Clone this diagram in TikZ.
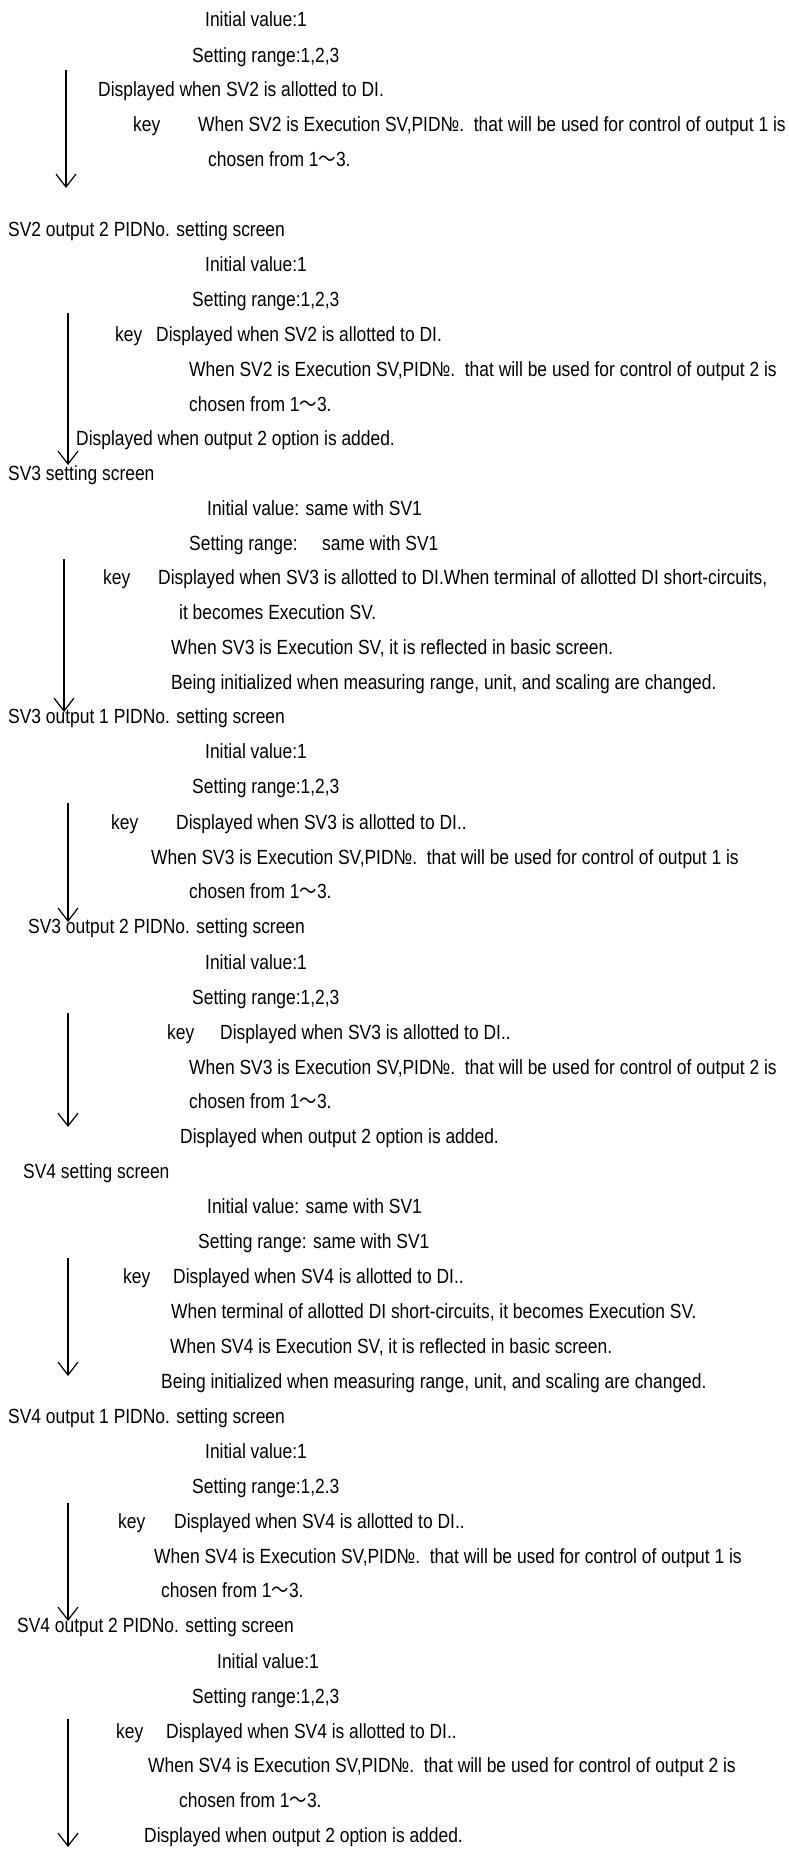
\documentclass[tikz,border=0pt]{standalone}
\usepackage{fontspec}
\setmainfont[FakeStretch=0.85]{Liberation Sans}
\newfontfamily\cjkfont[FakeStretch=0.85]{Noto Sans CJK SC}
\usetikzlibrary{arrows.meta}
\newcommand{\tld}{{\cjkfont ～}}
\begin{document}
\begin{tikzpicture}[x=1pt,y=-1pt,
  txt/.style={anchor=base west, inner sep=0pt, font=\fontsize{20.5pt}{24pt}\selectfont},
  arr/.style={line width=1.2pt, -{Straight Barb[length=13pt,width=20pt]}}]
\useasboundingbox (0,0) rectangle (789,1861);
% ---- block 1
\node[txt] (b1a) at (205,26) {Initial value:1};
\node[txt] (b1b) at (192,62) {Setting range:1,2,3};
\node[txt] (b1c) at (98,96) {Displayed when SV2 is allotted to DI.};
\node[txt] (b1k) at (133,131) {key};
\node[txt] (b1d) at (198,131) {When SV2 is Execution SV,PID№.\ \ that will be used for control of output 1 is};
\node[txt] (b1e) at (208,166) {chosen from 1\tld3.};
\coordinate (a1s) at (66,70); \coordinate (a1e) at (66,188);
\draw[arr] (a1s) -- (a1e);
\node[txt] (h1) at (8,236) {SV2 output 2 PIDNo. setting screen};
% ---- block 2
\node[txt] (b2a) at (205,271) {Initial value:1};
\node[txt] (b2b) at (192,306) {Setting range:1,2,3};
\node[txt] (b2k) at (115,341) {key};
\node[txt] (b2c) at (156,341) {Displayed when SV2 is allotted to DI.};
\node[txt] (b2d) at (189,376) {When SV2 is Execution SV,PID№.\ \ that will be used for control of output 2 is};
\node[txt] (b2e) at (189,411) {chosen from 1\tld3.};
\node[txt] (b2f) at (76,445) {Displayed when output 2 option is added.};
\coordinate (a2s) at (68,313); \coordinate (a2e) at (68,465);
\draw[arr] (a2s) -- (a2e);
\node[txt] (h2) at (8,480) {SV3 setting screen};
% ---- block 3
\node[txt] (b3a) at (207,515) {Initial value: same with SV1};
\node[txt] (b3b) at (189,550) {Setting range:\hspace{18pt} same with SV1};
\node[txt] (b3k) at (103,584) {key};
\node[txt] (b3c) at (158,584) {Displayed when SV3 is allotted to DI.When terminal of allotted DI short-circuits,};
\node[txt] (b3d) at (179,619) {it becomes Execution SV.};
\node[txt] (b3e) at (171,654) {When SV3 is Execution SV, it is reflected in basic screen.};
\node[txt] (b3f) at (171,689) {Being initialized when measuring range, unit, and scaling are changed.};
\coordinate (a3s) at (64,559); \coordinate (a3e) at (64,712);
\draw[arr] (a3s) -- (a3e);
\node[txt] (h3) at (8,723) {SV3 output 1 PIDNo. setting screen};
% ---- block 4
\node[txt] (b4a) at (205,758) {Initial value:1};
\node[txt] (b4b) at (192,793) {Setting range:1,2,3};
\node[txt] (b4k) at (111,829) {key};
\node[txt] (b4c) at (176,829) {Displayed when SV3 is allotted to DI..};
\node[txt] (b4d) at (151,864) {When SV3 is Execution SV,PID№.\ \ that will be used for control of output 1 is};
\node[txt] (b4e) at (189,898) {chosen from 1\tld3.};
\coordinate (a4s) at (68,803); \coordinate (a4e) at (68,922);
\draw[arr] (a4s) -- (a4e);
\node[txt] (h4) at (28,933) {SV3 output 2 PIDNo. setting screen};
% ---- block 5
\node[txt] (b5a) at (205,969) {Initial value:1};
\node[txt] (b5b) at (192,1004) {Setting range:1,2,3};
\node[txt] (b5k) at (167,1039) {key};
\node[txt] (b5c) at (220,1039) {Displayed when SV3 is allotted to DI..};
\node[txt] (b5d) at (189,1074) {When SV3 is Execution SV,PID№.\ \ that will be used for control of output 2 is};
\node[txt] (b5e) at (189,1108) {chosen from 1\tld3.};
\node[txt] (b5f) at (180,1143) {Displayed when output 2 option is added.};
\coordinate (a5s) at (68,1013); \coordinate (a5e) at (68,1127);
\draw[arr] (a5s) -- (a5e);
\node[txt] (h5) at (23,1178) {SV4 setting screen};
% ---- block 6
\node[txt] (b6a) at (207,1213) {Initial value: same with SV1};
\node[txt] (b6b) at (198,1248) {Setting range: same with SV1};
\node[txt] (b6k) at (123,1283) {key};
\node[txt] (b6c) at (173,1283) {Displayed when SV4 is allotted to DI..};
\node[txt] (b6d) at (171,1318) {When terminal of allotted DI short-circuits, it becomes Execution SV.};
\node[txt] (b6e) at (170,1353) {When SV4 is Execution SV, it is reflected in basic screen.};
\node[txt] (b6f) at (161,1388) {Being initialized when measuring range, unit, and scaling are changed.};
\coordinate (a6s) at (68,1258); \coordinate (a6e) at (68,1376);
\draw[arr] (a6s) -- (a6e);
\node[txt] (h6) at (8,1423) {SV4 output 1 PIDNo. setting screen};
% ---- block 7
\node[txt] (b7a) at (205,1458) {Initial value:1};
\node[txt] (b7b) at (192,1493) {Setting range:1,2.3};
\node[txt] (b7k) at (118,1528) {key};
\node[txt] (b7c) at (174,1528) {Displayed when SV4 is allotted to DI..};
\node[txt] (b7d) at (154,1563) {When SV4 is Execution SV,PID№.\ \ that will be used for control of output 1 is};
\node[txt] (b7e) at (161,1597) {chosen from 1\tld3.};
\coordinate (a7s) at (68,1503); \coordinate (a7e) at (68,1621);
\draw[arr] (a7s) -- (a7e);
\node[txt] (h7) at (17,1632) {SV4 output 2 PIDNo. setting screen};
% ---- block 8
\node[txt] (b8a) at (217,1668) {Initial value:1};
\node[txt] (b8b) at (192,1703) {Setting range:1,2,3};
\node[txt] (b8k) at (116,1738) {key};
\node[txt] (b8c) at (166,1738) {Displayed when SV4 is allotted to DI..};
\node[txt] (b8d) at (148,1772) {When SV4 is Execution SV,PID№.\ \ that will be used for control of output 2 is};
\node[txt] (b8e) at (179,1807) {chosen from 1\tld3.};
\node[txt] (b8f) at (144,1842) {Displayed when output 2 option is added.};
\coordinate (a8s) at (68,1719); \coordinate (a8e) at (68,1847);
\draw[arr] (a8s) -- (a8e);
\end{tikzpicture}
\end{document}
